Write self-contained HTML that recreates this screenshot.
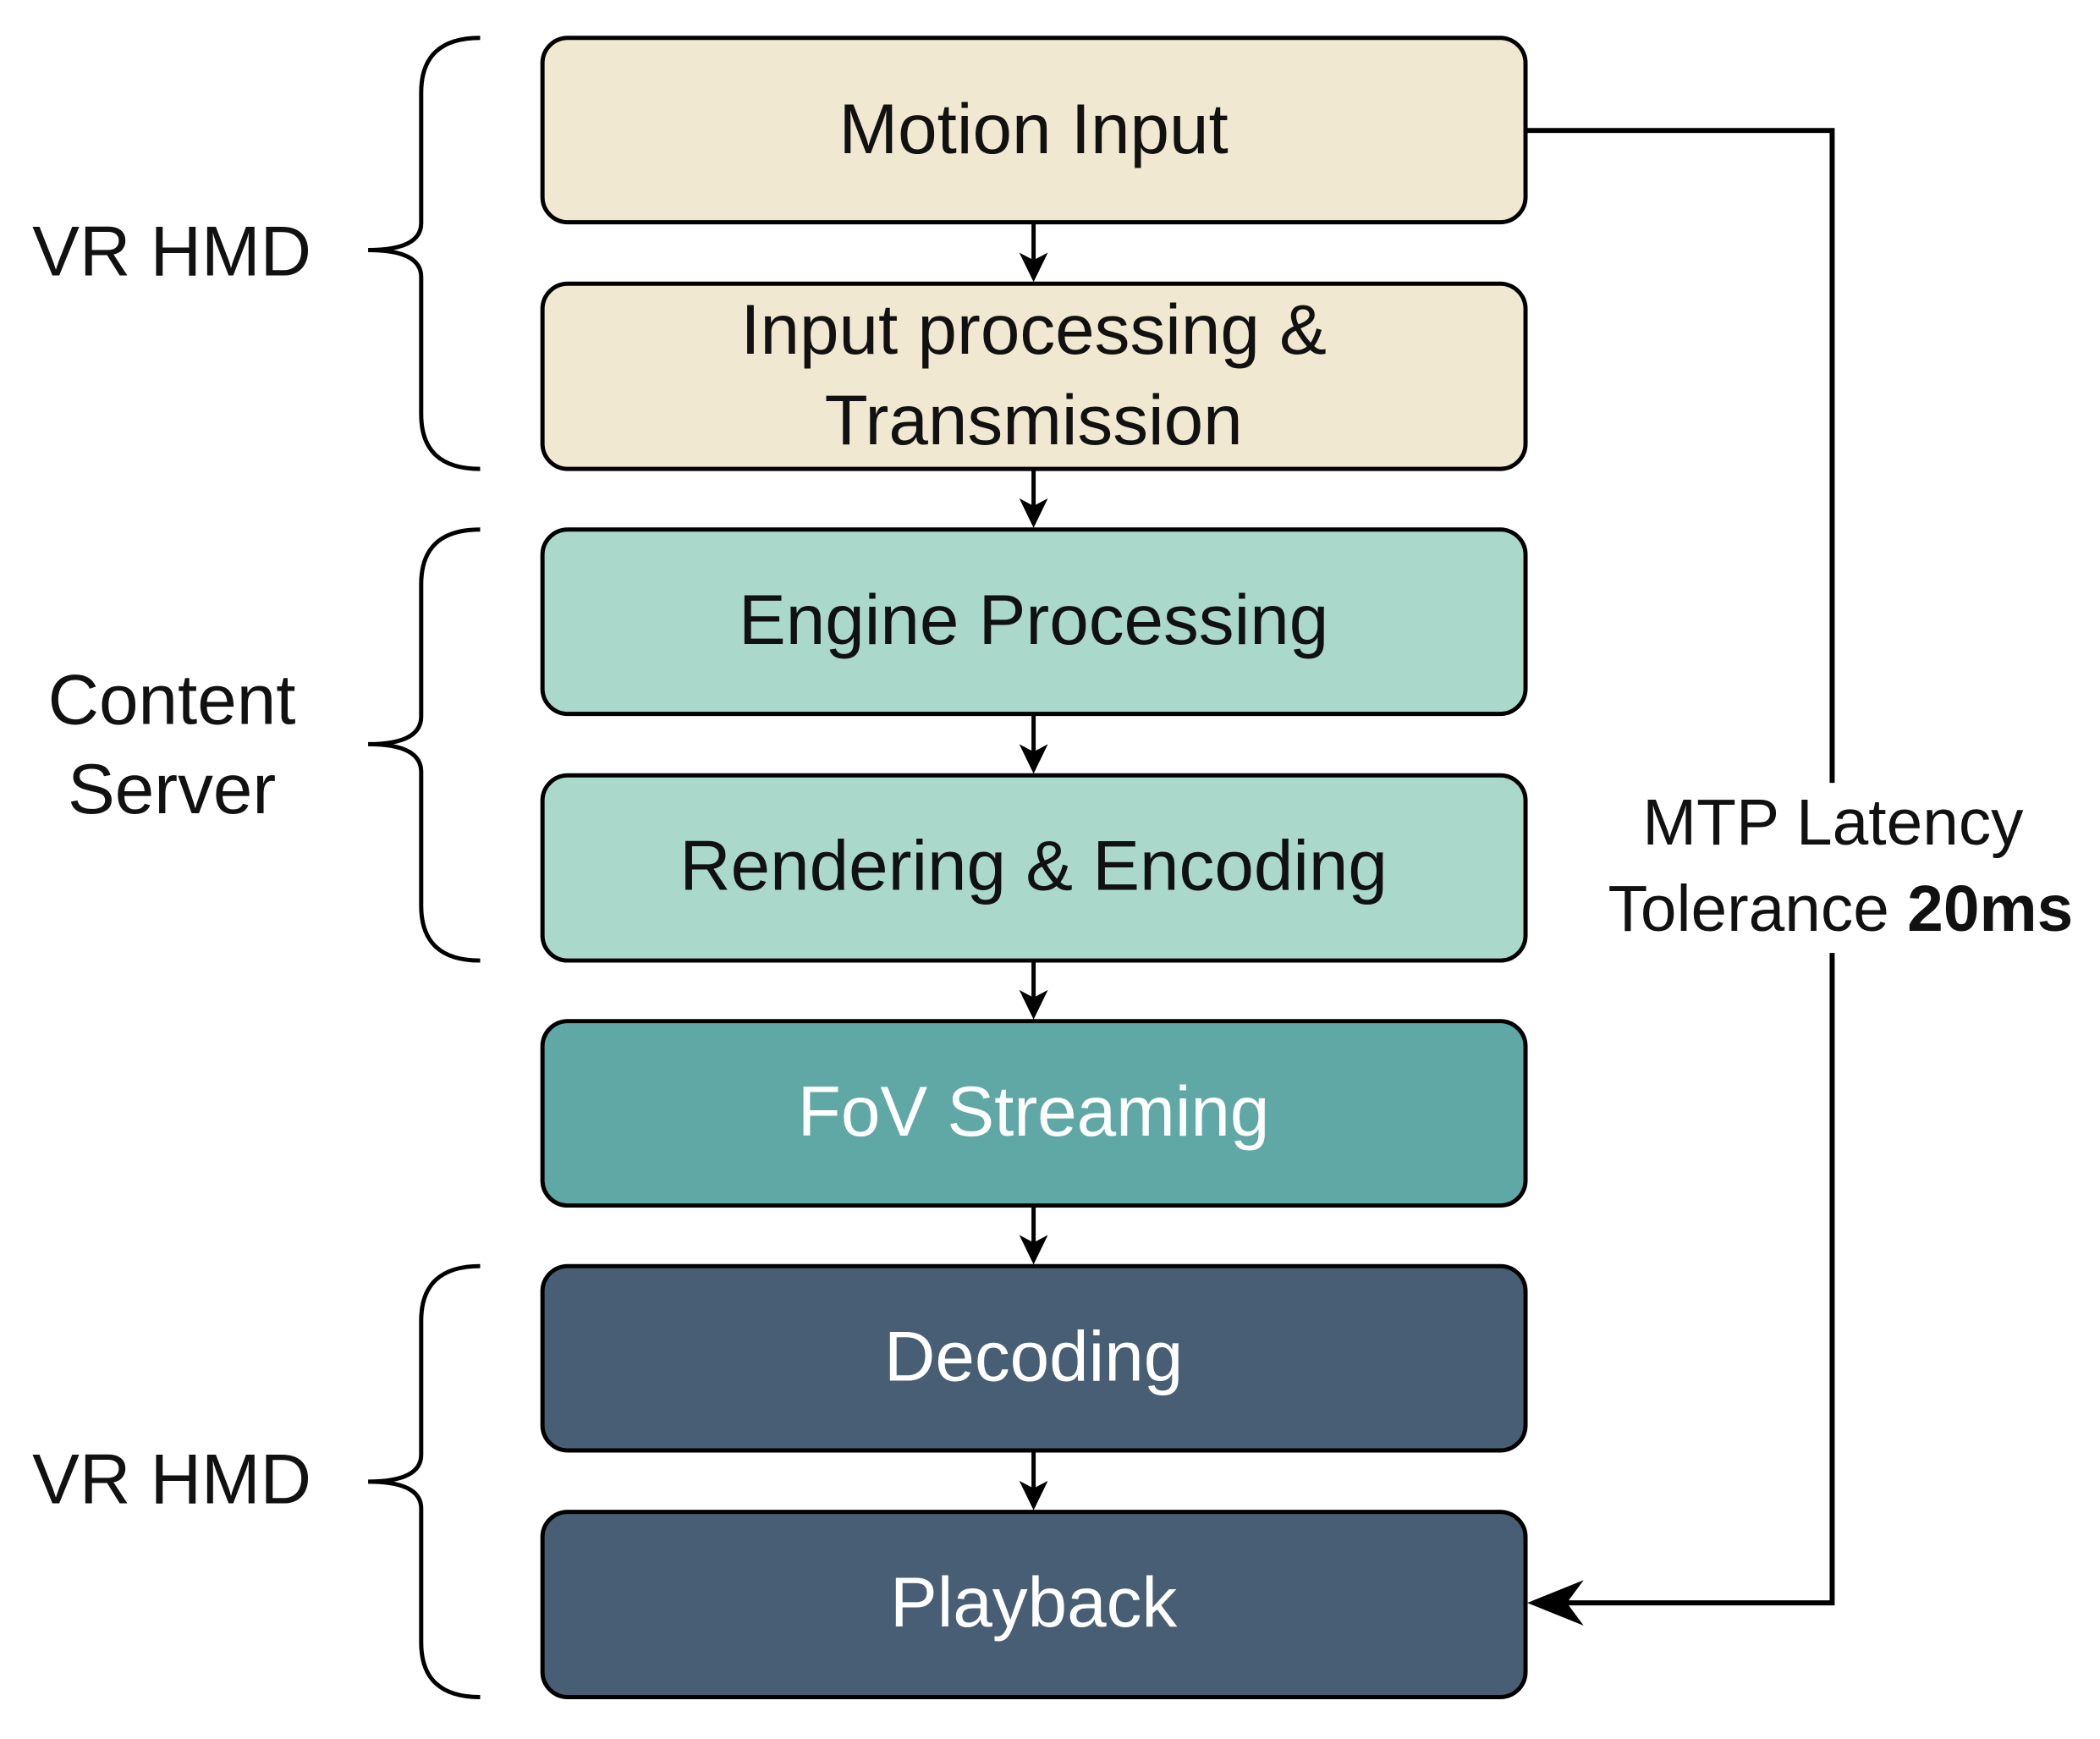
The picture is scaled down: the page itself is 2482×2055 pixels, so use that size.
<!DOCTYPE html>
<html><head><meta charset="utf-8"><style>html,body{margin:0;padding:0;background:#fff}</style></head>
<body>
<svg width="2482" height="2050" viewBox="0 0 2482 2050" xmlns="http://www.w3.org/2000/svg" font-family="Liberation Sans, Arial, sans-serif">
<g transform="scale(0.9956,0.9948)">
<g stroke="#000" stroke-width="5">
<rect x="644" y="45" width="1167" height="219" rx="30" fill="#F0E8D0"/>
<rect x="644" y="337" width="1167" height="220" rx="30" fill="#F0E8D0"/>
<rect x="644" y="629" width="1167" height="219" rx="30" fill="#AAD9CB"/>
<rect x="644" y="921" width="1167" height="220" rx="30" fill="#AAD9CB"/>
<rect x="644" y="1213" width="1167" height="219" rx="30" fill="#5FA8A6"/>
<rect x="644" y="1504" width="1167" height="219" rx="30" fill="#475E74"/>
<rect x="644" y="1796" width="1167" height="220" rx="30" fill="#475E74"/>
<g fill="none">
<line x1="1227" y1="266" x2="1227" y2="330"/>
<line x1="1227" y1="559" x2="1227" y2="622"/>
<line x1="1227" y1="850" x2="1227" y2="914"/>
<line x1="1227" y1="1143" x2="1227" y2="1206"/>
<line x1="1227" y1="1434" x2="1227" y2="1497"/>
<line x1="1227" y1="1725" x2="1227" y2="1789"/>
<polyline points="1813,155 2175,155 2175,930" stroke-width="6"/>
<polyline points="2175,1132 2175,1904 1850,1904" stroke-width="6"/>
<path d="M570,45 Q500,45 500,110 L500,265 Q500,297 437,297 Q500,297 500,329 L500,492 Q500,557 570,557"/>
<path d="M570,629 Q500,629 500,694 L500,851 Q500,884 437,884 Q500,884 500,917 L500,1076 Q500,1141 570,1141"/>
<path d="M570,1504 Q500,1504 500,1569 L500,1728 Q500,1760 437,1760 Q500,1760 500,1792 L500,1951 Q500,2016 570,2016"/>
</g>
</g>
<g fill="#000">
<path d="M1227,335 L1210,300 L1227,309 L1244,300 Z"/>
<path d="M1227,627 L1210,592 L1227,601 L1244,592 Z"/>
<path d="M1227,919 L1210,884 L1227,893 L1244,884 Z"/>
<path d="M1227,1211 L1210,1176 L1227,1185 L1244,1176 Z"/>
<path d="M1227,1502 L1210,1467 L1227,1476 L1244,1467 Z"/>
<path d="M1227,1794 L1210,1759 L1227,1768 L1244,1759 Z"/>
<path d="M1813,1904 L1880,1877 L1860,1904 L1880,1931 Z"/>
</g>
<g font-size="84" text-anchor="middle" fill="#111">
<text x="1227" y="182">Motion Input</text>
<text x="1227" y="420">Input processing &amp;</text>
<text x="1227" y="528">Transmission</text>
<text x="1227" y="765">Engine Processing</text>
<text x="1227" y="1057">Rendering &amp; Encoding</text>
<text x="1227" y="1349" fill="#fff">FoV Streaming</text>
<text x="1227" y="1640" fill="#fff">Decoding</text>
<text x="1227" y="1932" fill="#fff">Playback</text>
<text x="204" y="327">VR HMD</text>
<text x="204" y="860">Content</text>
<text x="204" y="966">Server</text>
<text x="204" y="1786">VR HMD</text>
</g>
<g font-size="77" text-anchor="middle" fill="#111">
<text x="2176" y="1003">MTP Latency</text>
<text x="2185" y="1106">Tolerance <tspan font-weight="bold">20ms</tspan></text>
</g>
</g>
</svg>
</body></html>
